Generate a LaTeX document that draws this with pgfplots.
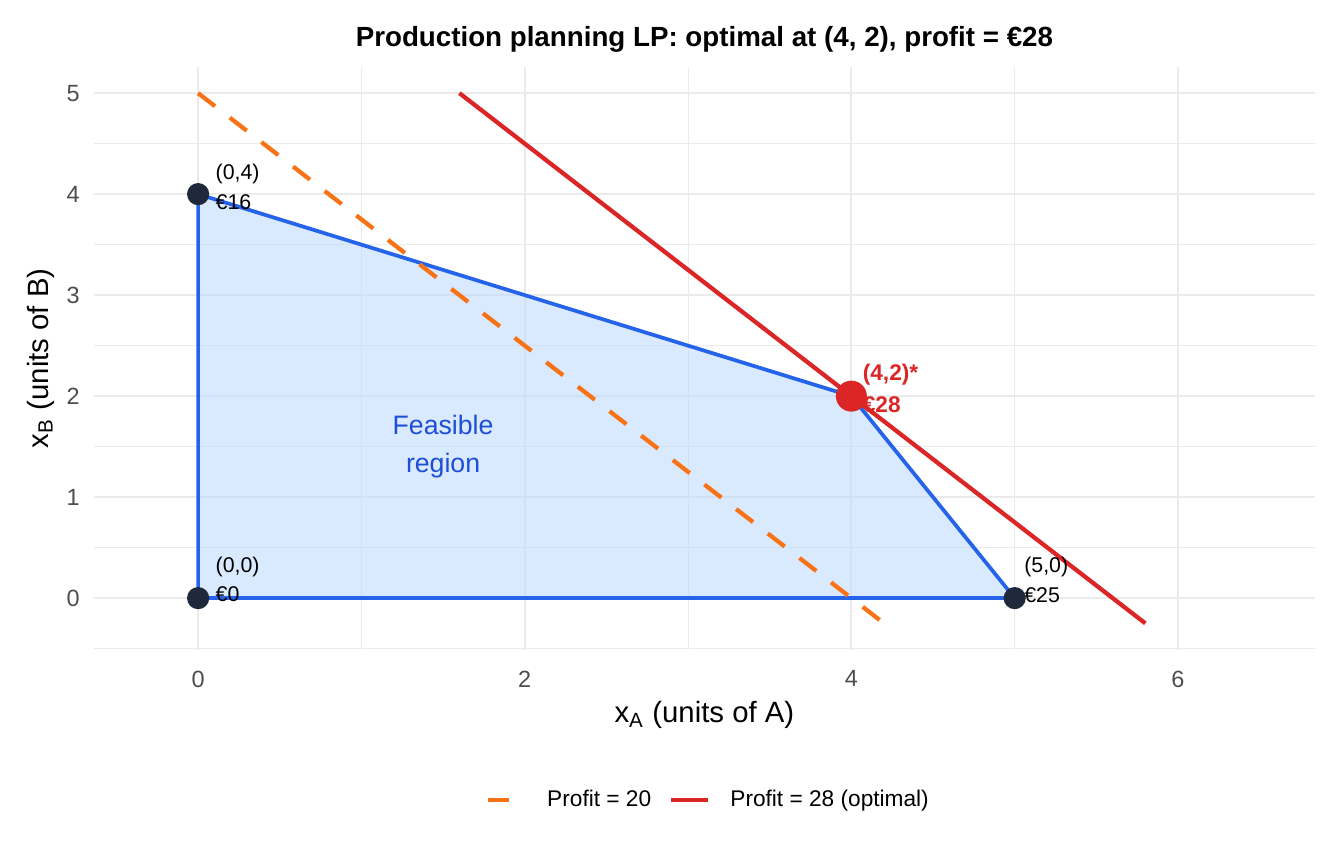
\documentclass[border=0pt]{standalone}
\usepackage{pgfplots}
\pgfplotsset{compat=1.18}
\usepackage{fontspec}
\setmainfont{Liberation Sans}

\definecolor{regionfill}{HTML}{BFDBFE}
\definecolor{regionline}{HTML}{2563EB}
\definecolor{regiontext}{HTML}{1D4ED8}
\definecolor{isoorange}{HTML}{F97316}
\definecolor{isored}{HTML}{DC2626}
\definecolor{vertexdark}{HTML}{1E293B}
\definecolor{gridgray}{HTML}{EBEBEB}
\definecolor{ticktext}{HTML}{4D4D4D}

\begin{document}
\begin{tikzpicture}
\path[use as bounding box] (0,0) rectangle (504pt,324pt);
\begin{axis}[
  at={(35.1pt,80.3pt)}, anchor=south west,
  scale only axis, width=458.1pt, height=218.7pt,
  xmin=-0.64, xmax=6.84, ymin=-0.5125, ymax=5.2625,
  axis line style={draw=none},
  major tick length=0pt, minor tick length=0pt,
  xtick={0,2,4,6}, ytick={0,1,2,3,4,5},
  minor xtick={1,3,5},
  minor ytick={-0.5,0.5,1.5,2.5,3.5,4.5},
  grid=both,
  major grid style={gridgray, line width=0.75pt},
  minor grid style={gridgray, line width=0.4pt},
  /pgf/number format/assume math mode=true,
  xticklabel style={font=\fontsize{8.8}{10}\selectfont, text=ticktext,
    anchor=north, inner sep=0pt, yshift=-7.6pt},
  yticklabel style={font=\fontsize{8.8}{10}\selectfont, text=ticktext,
    anchor=east, inner sep=0pt, xshift=-5pt},
  xlabel={x\textsubscript{A} (units of A)},
  ylabel={x\textsubscript{B} (units of B)},
  xlabel style={font=\fontsize{11}{13}\selectfont, at={(axis description cs:0.5,0)},
    anchor=base, inner sep=0pt, yshift=-27.4pt},
  ylabel style={font=\fontsize{11}{13}\selectfont, at={(axis description cs:-0.0371,0.5)},
    anchor=base, inner sep=0pt},
  title={Production planning LP: optimal at (4, 2), profit = €28},
  title style={font=\bfseries\fontsize{10.4}{12}\selectfont,
    at={(axis description cs:0.5,1)}, anchor=base, inner sep=0pt, yshift=1.4pt},
  legend style={at={(axis description cs:0.5045,-0.2572)}, anchor=center,
    draw=none, fill=none, font=\fontsize{8.5}{10}\selectfont,
    legend columns=2,
    /tikz/every odd column/.append style={column sep=5.6pt},
    /tikz/every even column/.append style={column sep=4.6pt}},
  legend image code/.code={\draw[#1] (0pt,0pt) -- (13.9pt,0pt);},
]

% feasible region: x_A + 2 x_B <= 8, 2 x_A + x_B <= 10, x >= 0
\addplot[draw=regionline, line width=1.4pt, line join=round,
  fill=regionfill, fill opacity=0.6, forget plot]
  coordinates {(0,0) (5,0) (4,2) (0,4)} -- cycle;

% iso-profit lines 5 x_A + 4 x_B = const
\addplot[isoorange, line width=1.6pt, dash pattern=on 8pt off 7pt]
  coordinates {(0,5) (4.2,-0.25)};
\addlegendentry{Profit = 20}
\addplot[isored, line width=1.6pt]
  coordinates {(1.6,5) (5.8,-0.25)};
\addlegendentry{Profit = 28 (optimal)}

% vertices
\addplot[only marks, mark=*, mark size=3.95pt, vertexdark, forget plot]
  coordinates {(0,0) (5,0) (0,4)};
\addplot[only marks, mark=*, mark size=5.6pt, isored, forget plot]
  coordinates {(4,2)};

% vertex labels
\begin{scope}[every node/.style={anchor=base west, inner sep=0pt,
    font=\fontsize{8}{9.6}\selectfont}]
\node[xshift=6.4pt, yshift=5.6pt] at (axis cs:0,4) {(0,4)};
\node[xshift=6.4pt, yshift=-5.6pt] at (axis cs:0,4) {€16};
\node[xshift=6.4pt, yshift=9.75pt] at (axis cs:0,0) {(0,0)};
\node[xshift=6.4pt, yshift=-1.1pt] at (axis cs:0,0) {€0};
\node[xshift=3.4pt, yshift=9.75pt] at (axis cs:5,0) {(5,0)};
\node[xshift=3.4pt, yshift=-1.5pt] at (axis cs:5,0) {€25};
\node[xshift=4.1pt, yshift=6pt, text=isored, font=\bfseries\fontsize{8.5}{10}\selectfont]
  at (axis cs:4,2) {(4,2)*};
\node[xshift=4.1pt, yshift=-6pt, text=isored, font=\bfseries\fontsize{8.5}{10}\selectfont]
  at (axis cs:4,2) {€28};
\end{scope}

\node[align=center, text=regiontext, font=\fontsize{10}{13.9}\selectfont]
  at (axis cs:1.5,1.5) {Feasible\\region};

\end{axis}
\end{tikzpicture}
\end{document}
